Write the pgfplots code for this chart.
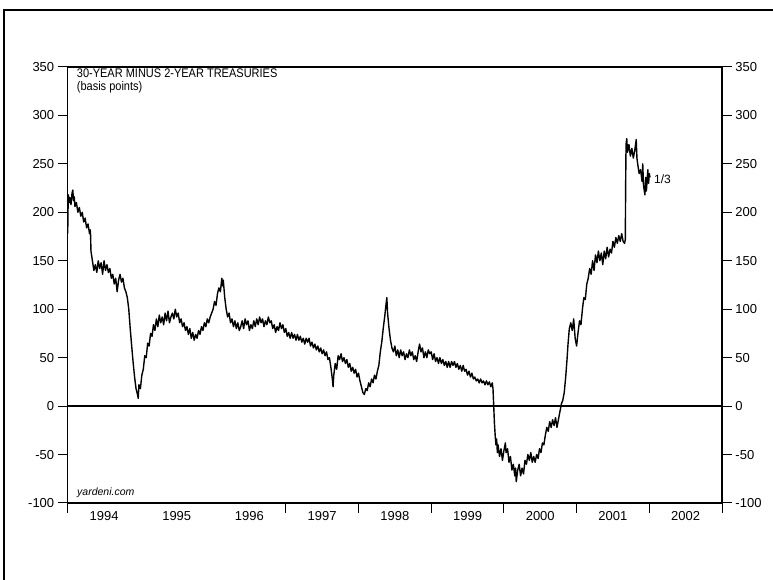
\documentclass[border=0pt]{standalone}
\usepackage{fontspec}
\setmainfont{Liberation Sans}
\newfontfamily\narrowfont[FakeStretch=0.88]{Liberation Sans}
\usepackage{pgfplots}
\pgfplotsset{compat=1.18}
\begin{document}
\begin{tikzpicture}[x=1pt,y=1pt]
\useasboundingbox (0,0) rectangle (773,580);
\draw[line width=1.1pt] (4,-2) -- (4,570) -- (776,570);
\pgfplotsset{
  base/.style={
    at={(67.7pt,77pt)}, anchor=south west, width=654.3pt, height=436pt, scale only axis,
    xmin=1994, xmax=2003, ymin=-100, ymax=350,
    axis line style={line width=1.3pt},
    tick style={line width=1pt, black},
    tick align=outside, major tick length=10pt,
    ytick={-100,-50,...,350},
    /pgf/number format/assume math mode=true,
    tick label style={font=\fontsize{13}{13}\selectfont},
    clip=false,
  }
}
\begin{axis}[base,
  ytick pos=left, yticklabel pos=left,
  xtick={1994,1997,1998,1999,2000,2001,2002,2003}, xticklabels={},
  xtick pos=lower,
]
\addplot[line width=1.3pt, black] coordinates {(1994,0) (2003,0)};
\addplot[line width=1.4pt, black, line join=round] coordinates {
(1994.00,178) (1994.005,205) (1994.01,218) (1994.02,210) (1994.03,215) (1994.045,208) (1994.06,220) (1994.07,223)
(1994.08,212) (1994.09,216) (1994.10,206) (1994.12,210) (1994.14,200) (1994.16,205) (1994.18,196) (1994.20,200)
(1994.22,190) (1994.24,194) (1994.26,184) (1994.28,188) (1994.30,178) (1994.31,182) (1994.315,176) (1994.32,160)
(1994.34,150) (1994.36,140) (1994.38,146) (1994.40,138) (1994.42,150) (1994.44,142) (1994.46,148) (1994.48,136)
(1994.50,150) (1994.52,140) (1994.54,146) (1994.56,138) (1994.58,142) (1994.60,132) (1994.62,136) (1994.64,126)
(1994.66,132) (1994.68,118) (1994.70,130) (1994.72,136) (1994.74,128) (1994.76,132) (1994.78,122) (1994.80,118)
(1994.82,112) (1994.84,100) (1994.86,80) (1994.88,62) (1994.90,45) (1994.92,30) (1994.94,18) (1994.96,12)
(1994.97,8) (1994.98,22) (1995.00,18) (1995.02,32) (1995.04,38) (1995.06,52) (1995.08,50) (1995.10,65)
(1995.12,62) (1995.14,75) (1995.16,72) (1995.18,84) (1995.20,78) (1995.22,90) (1995.24,82) (1995.26,94)
(1995.28,86) (1995.30,92) (1995.32,84) (1995.34,96) (1995.36,88) (1995.38,98) (1995.40,86) (1995.42,92)
(1995.44,96) (1995.46,90) (1995.48,100) (1995.50,92) (1995.52,96) (1995.54,86) (1995.56,90) (1995.58,82)
(1995.60,86) (1995.62,78) (1995.64,82) (1995.66,74) (1995.68,80) (1995.70,70) (1995.72,76) (1995.74,68)
(1995.76,74) (1995.78,70) (1995.80,78) (1995.82,74) (1995.84,82) (1995.86,78) (1995.88,86) (1995.90,82)
(1995.92,90) (1995.94,86) (1995.96,92) (1995.98,96) (1996.00,100) (1996.02,108) (1996.04,104) (1996.06,116)
(1996.08,122) (1996.10,118) (1996.12,132) (1996.13,124) (1996.14,130) (1996.16,112) (1996.18,100) (1996.20,92)
(1996.22,96) (1996.24,86) (1996.26,90) (1996.28,82) (1996.30,88) (1996.32,80) (1996.34,86) (1996.36,78)
(1996.38,82) (1996.40,88) (1996.42,80) (1996.44,90) (1996.46,84) (1996.48,88) (1996.50,78) (1996.52,84)
(1996.54,80) (1996.56,88) (1996.58,82) (1996.60,90) (1996.62,84) (1996.64,92) (1996.66,86) (1996.68,90)
(1996.70,82) (1996.72,88) (1996.74,84) (1996.76,92) (1996.78,86) (1996.80,88) (1996.82,80) (1996.84,84)
(1996.86,76) (1996.88,82) (1996.90,78) (1996.92,86) (1996.94,80) (1996.96,84) (1996.98,76) (1997.00,80)
(1997.02,72) (1997.04,76) (1997.06,70) (1997.08,76) (1997.10,70) (1997.12,74) (1997.14,68) (1997.16,74)
(1997.18,68) (1997.20,72) (1997.22,66) (1997.24,70) (1997.26,64) (1997.28,70) (1997.30,66) (1997.32,70)
(1997.34,62) (1997.36,66) (1997.38,60) (1997.40,64) (1997.42,58) (1997.44,62) (1997.46,56) (1997.48,60)
(1997.50,54) (1997.52,58) (1997.54,52) (1997.56,56) (1997.58,48) (1997.60,50) (1997.62,40) (1997.64,28)
(1997.65,20) (1997.66,32) (1997.68,44) (1997.70,38) (1997.72,52) (1997.74,48) (1997.76,54) (1997.78,46)
(1997.80,50) (1997.82,44) (1997.84,48) (1997.86,40) (1997.88,44) (1997.90,36) (1997.92,40) (1997.94,34)
(1997.96,38) (1997.98,30) (1998.00,34) (1998.02,26) (1998.04,20) (1998.06,14) (1998.08,12) (1998.10,18)
(1998.12,16) (1998.14,24) (1998.16,20) (1998.18,28) (1998.20,24) (1998.22,32) (1998.24,28) (1998.26,36)
(1998.28,42) (1998.30,56) (1998.32,66) (1998.34,80) (1998.36,92) (1998.38,106) (1998.39,112) (1998.40,96)
(1998.42,80) (1998.44,68) (1998.46,60) (1998.48,56) (1998.50,62) (1998.52,52) (1998.54,58) (1998.56,50)
(1998.58,58) (1998.60,52) (1998.62,56) (1998.64,48) (1998.66,54) (1998.68,50) (1998.70,58) (1998.72,52)
(1998.74,56) (1998.76,48) (1998.78,52) (1998.80,46) (1998.82,56) (1998.84,64) (1998.86,56) (1998.88,60)
(1998.90,50) (1998.92,56) (1998.94,50) (1998.96,58) (1998.98,54) (1999.00,56) (1999.02,48) (1999.04,54)
(1999.06,46) (1999.08,50) (1999.10,44) (1999.12,50) (1999.14,44) (1999.16,48) (1999.18,42) (1999.20,46)
(1999.22,40) (1999.24,46) (1999.26,40) (1999.28,46) (1999.30,42) (1999.32,46) (1999.34,40) (1999.36,44)
(1999.38,38) (1999.40,42) (1999.42,36) (1999.44,42) (1999.46,36) (1999.48,38) (1999.50,32) (1999.52,36)
(1999.54,30) (1999.56,34) (1999.58,28) (1999.60,30) (1999.62,26) (1999.64,28) (1999.66,24) (1999.68,28)
(1999.70,24) (1999.72,26) (1999.74,22) (1999.76,26) (1999.78,22) (1999.80,25) (1999.82,20) (1999.84,24)
(1999.85,18) (1999.86,0) (1999.87,-18) (1999.88,-30) (1999.89,-40) (1999.90,-34) (1999.91,-48) (1999.92,-40)
(1999.94,-52) (1999.96,-44) (1999.98,-56) (2000.00,-46) (2000.02,-38) (2000.03,-48) (2000.05,-44) (2000.07,-58)
(2000.09,-52) (2000.11,-66) (2000.13,-60) (2000.15,-72) (2000.16,-64) (2000.17,-78) (2000.19,-66) (2000.21,-60)
(2000.23,-72) (2000.25,-64) (2000.27,-70) (2000.29,-56) (2000.31,-60) (2000.33,-50) (2000.35,-56) (2000.37,-48)
(2000.39,-58) (2000.41,-52) (2000.43,-58) (2000.45,-50) (2000.47,-54) (2000.49,-44) (2000.51,-48) (2000.53,-38)
(2000.55,-40) (2000.57,-30) (2000.59,-22) (2000.61,-26) (2000.63,-16) (2000.65,-22) (2000.67,-14) (2000.69,-20)
(2000.71,-12) (2000.73,-22) (2000.75,-14) (2000.77,-6) (2000.79,2) (2000.81,6) (2000.83,14) (2000.85,30)
(2000.87,50) (2000.88,62) (2000.90,80) (2000.92,86) (2000.94,78) (2000.96,90) (2000.98,70) (2001.00,62)
(2001.02,76) (2001.04,88) (2001.06,84) (2001.08,100) (2001.10,112) (2001.12,110) (2001.14,126) (2001.16,132)
(2001.18,142) (2001.20,136) (2001.22,150) (2001.24,140) (2001.26,156) (2001.28,148) (2001.30,160) (2001.32,150)
(2001.34,158) (2001.36,146) (2001.38,160) (2001.40,152) (2001.42,164) (2001.44,154) (2001.46,162) (2001.48,158)
(2001.50,170) (2001.52,164) (2001.54,174) (2001.56,168) (2001.58,176) (2001.60,170) (2001.62,178) (2001.64,170)
(2001.66,168) (2001.67,172) (2001.675,230) (2001.68,270) (2001.69,276) (2001.70,262) (2001.72,270) (2001.74,258)
(2001.76,266) (2001.78,256) (2001.80,264) (2001.82,275) (2001.83,256) (2001.84,250) (2001.86,240) (2001.88,244)
(2001.90,232) (2001.91,250) (2001.92,228) (2001.94,218) (2001.95,236) (2001.96,222) (2001.98,244) (2001.99,230)
(2002.00,240) (2002.01,236)
};
\end{axis}
\begin{axis}[base,
  ytick pos=right, yticklabel pos=right,
  xtick={1994.5,1995.5,...,2002.5},
  xticklabels={1994,1995,1996,1997,1998,1999,2000,2001,2002},
  xtick pos=lower, x tick style={draw=none},
  xticklabel style={yshift=5pt},
]
\end{axis}
\node[anchor=base west, inner sep=0, font=\fontsize{12.5}{12.5}\narrowfont] at (76.7,502) {30-YEAR MINUS 2-YEAR TREASURIES};
\node[anchor=base west, inner sep=0, font=\fontsize{12.5}{12.5}\narrowfont] at (76.7,489) {(basis points)};
\node[anchor=base west, inner sep=0, font=\fontsize{10.5}{10.5}\selectfont\itshape] at (77,84) {yardeni.com};
\node[anchor=base west, inner sep=0, font=\fontsize{12}{12}\selectfont] at (654,396) {1/3};
\end{tikzpicture}
\end{document}
